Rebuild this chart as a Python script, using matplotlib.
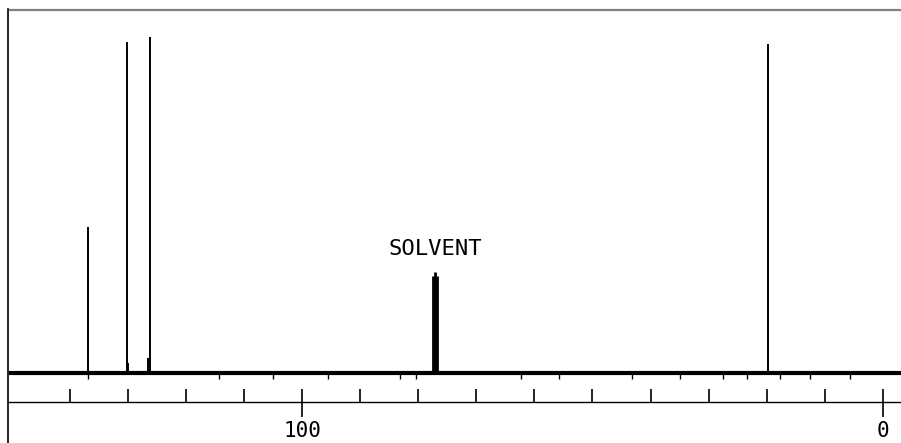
import matplotlib
matplotlib.use("Agg")
import matplotlib.pyplot as plt
import numpy as np

# spectrum: chemical shift (ppm) and relative peak height
peak_ppm = [136.8, 130.1, 129.9, 126.5, 126.2, 19.8]
peak_height = [43.5, 98.5, 3.0, 4.5, 100.0, 97.9]
solvent_ppm = [77.4, 77.1, 76.8]
solvent_height = [29.0, 30.1, 29.0]
noise_dips = [136.8, 114.3, 105.0, 95.5, 83.1, 80.4, 62.3, 55.8, 43.2,
              34.9, 27.5, 23.4, 17.7, 12.6, 5.7]
tick_ppm = [140, 130, 120, 110, 100, 90, 80, 70, 60, 50, 40, 30, 20, 10, 0]
label_ppm = [100, 0]

fig = plt.figure(figsize=(9.01, 4.43), dpi=100)
ax = fig.add_axes([0, 0, 1, 1])
ax.set_xlim(151.98, -3.1)
ax.set_ylim(-20.83, 111.0)
ax.axis("off")

left, right = 150.6, -3.1

# frame
ax.plot([left - 0.3, right], [108.0, 108.0], color="#808080", lw=1.6)
ax.plot([left, left], [-21, 108.3], color="black", lw=1.2)

# baseline
ax.plot([left - 0.2, right], [0, 0], color="black", lw=3.0, solid_capstyle="butt")
ax.vlines(noise_dips, -1.9, 0, color="black", lw=1.0)

# peaks
ax.vlines(peak_ppm, 0, peak_height, color="black", lw=1.4)
ax.vlines(solvent_ppm, 0, solvent_height, color="black", lw=2.0)
ax.text(77.1, 36.9, "SOLVENT", ha="center", va="center",
        fontsize=16, family="DejaVu Sans Mono")

# ppm axis
ax.plot([left - 0.2, right], [-8.6, -8.6], color="black", lw=1.0)
ax.vlines(tick_ppm, -8.6, -4.8, color="black", lw=1.2)
ax.vlines(label_ppm, -13.1, -8.6, color="black", lw=1.2)
for p in label_ppm:
    ax.text(p, -17.2, str(p), ha="center", va="center",
            fontsize=15, family="DejaVu Sans Mono")

fig.savefig("out.png", dpi=100)
